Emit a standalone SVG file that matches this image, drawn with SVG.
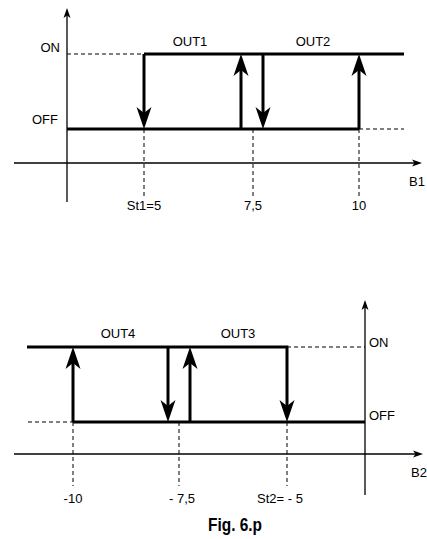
<svg xmlns="http://www.w3.org/2000/svg" width="427" height="539" viewBox="0 0 427 539">
<style>
.ax{stroke:#000;stroke-width:1.3;fill:none}
.th{stroke:#000;stroke-width:3;fill:none}
.ds{stroke:#000;stroke-width:1;fill:none;stroke-dasharray:4,3}
text{font-family:"Liberation Sans",Arial,sans-serif;font-size:13px;fill:#000}
.fig{font-weight:bold;font-size:18px}
</style>
<defs>
<path id="ah" d="M0,0 L-7.5,-22 L0,-16 L7.5,-22 Z" fill="#000"/>
<path id="aa" d="M0,0 L-3.5,-10 L0,-7.5 L3.5,-10 Z" fill="#000"/>
</defs>
<rect width="427" height="539" fill="#fff"/>
<g id="chart1">
<g id="axes1">
<line class="ax" x1="67" y1="14" x2="67" y2="202"/>
<use href="#aa" transform="translate(67,8) rotate(180)"/>
<line class="ax" x1="14" y1="163" x2="416" y2="163"/>
<use href="#aa" transform="translate(422,163) rotate(-90)"/>
</g>
<g id="connectors1">
<line class="ds" x1="67" y1="54" x2="144" y2="54"/>
<line class="ds" x1="359" y1="129" x2="404" y2="129"/>
<line class="ds" x1="144" y1="129" x2="144" y2="198"/>
<line class="ds" x1="253" y1="129" x2="253" y2="198"/>
<line class="ds" x1="359" y1="129" x2="359" y2="198"/>
<path class="th" d="M67,129 H359"/>
<path class="th" d="M144,54 H404"/>
<path class="th" d="M144,54 V115"/>
<use href="#ah" transform="translate(144,129)"/>
<path class="th" d="M241,129 V68"/>
<use href="#ah" transform="translate(241,54) rotate(180)"/>
<path class="th" d="M263,54 V115"/>
<use href="#ah" transform="translate(263,129)"/>
<path class="th" d="M359,129 V68"/>
<use href="#ah" transform="translate(359,54) rotate(180)"/>
</g>
<g id="labels1">
<text x="60" y="52" text-anchor="end">ON</text>
<text x="58" y="124" text-anchor="end">OFF</text>
<text x="190" y="46" text-anchor="middle">OUT1</text>
<text x="313" y="46" text-anchor="middle">OUT2</text>
<text x="409" y="186">B1</text>
<text x="144" y="210" text-anchor="middle">St1=5</text>
<text x="253" y="210" text-anchor="middle">7,5</text>
<text x="359" y="210" text-anchor="middle">10</text>
</g>
</g>
<g id="chart2">
<g id="axes2">
<line class="ax" x1="365" y1="306" x2="365" y2="495"/>
<use href="#aa" transform="translate(365,300) rotate(180)"/>
<line class="ax" x1="14" y1="454" x2="417" y2="454"/>
<use href="#aa" transform="translate(423,454) rotate(-90)"/>
</g>
<g id="connectors2">
<line class="ds" x1="28" y1="422" x2="73" y2="422"/>
<line class="ds" x1="287" y1="347" x2="365" y2="347"/>
<line class="ds" x1="73" y1="422" x2="73" y2="486"/>
<line class="ds" x1="179" y1="422" x2="179" y2="486"/>
<line class="ds" x1="287" y1="422" x2="287" y2="486"/>
<path class="th" d="M27,347 H287 V408"/>
<use href="#ah" transform="translate(287,422)"/>
<path class="th" d="M73,422 H365"/>
<path class="th" d="M73,422 V361"/>
<use href="#ah" transform="translate(73,347) rotate(180)"/>
<path class="th" d="M168,347 V408"/>
<use href="#ah" transform="translate(168,422)"/>
<path class="th" d="M190,422 V361"/>
<use href="#ah" transform="translate(190,347) rotate(180)"/>
</g>
<g id="labels2">
<text x="369" y="347">ON</text>
<text x="369" y="420">OFF</text>
<text x="118" y="338" text-anchor="middle">OUT4</text>
<text x="238" y="338" text-anchor="middle">OUT3</text>
<text x="411" y="477">B2</text>
<text x="73" y="503" text-anchor="middle">-10</text>
<text x="182" y="503" text-anchor="middle">- 7,5</text>
<text x="280" y="503" text-anchor="middle">St2= - 5</text>
</g>
</g>
<text class="fig" x="235" y="531" text-anchor="middle" textLength="54" lengthAdjust="spacingAndGlyphs">Fig. 6.p</text>
</svg>
